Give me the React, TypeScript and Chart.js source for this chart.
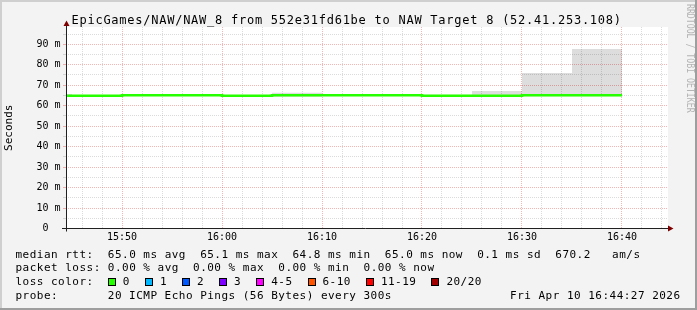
import { useEffect, useRef } from 'react';
import { Chart, registerables } from 'chart.js';

Chart.register(...registerables);

// ---------- text ----------
const titleText = 'EpicGames/NAW/NAW_8 from 552e31fd61be to NAW Target 8 (52.41.253.108)';
const yAxisTitle = 'Seconds';
const watermarkText = 'RRDTOOL / TOBI OETIKER';

// ---------- data (5 minute steps, each value covers the 5 minutes ending at its time) ----------
const sampleTimes = ['15:45', '15:50', '15:55', '16:00', '16:05', '16:10', '16:15', '16:20', '16:25', '16:30', '16:35', '16:40'];
const medianRtt = [64.8, 64.8, 65.1, 65.1, 64.8, 65.1, 65.1, 65.1, 64.8, 64.8, 65.1, 65.1];
const smokeLow = [64.4, 64.4, 64.7, 64.7, 64.5, 64.4, 64.8, 64.8, 64.5, 64.5, 64.6, 64.6];
const smokeHigh = [65.7, 65.0, 65.4, 65.4, 65.2, 66.3, 65.4, 65.4, 65.3, 67.2, 76.0, 87.7];
const stepMinutes = 5;

const xRange = ['15:44:24', '16:44:36'];
const xTickTimes = ['15:50', '16:00', '16:10', '16:20', '16:30', '16:40'];
const xTickLabels = ['15:50', '16:00', '16:10', '16:20', '16:30', '16:40'];
const yMax = 98.45;
const yTickValues = [0, 10, 20, 30, 40, 50, 60, 70, 80, 90];
const yTickLabels = ['0', '10 m', '20 m', '30 m', '40 m', '50 m', '60 m', '70 m', '80 m', '90 m'];

// ---------- legend ----------
const rttStats = ['65.0 ms avg', '65.1 ms max', '64.8 ms min', '65.0 ms now', '0.1 ms sd', '670.2   am/s'];
const lossStats = ['0.00 % avg', '0.00 % max', '0.00 % min', '0.00 % now'];
const lossColorLabels = ['0', '1', '2', '3', '4-5', '6-10', '11-19', '20/20'];
const lossColors = ['#26ff00', '#00b8ff', '#0059ff', '#7e00ff', '#ff00ff', '#ff5500', '#ff0000', '#a10000'];
const probeText = '20 ICMP Echo Pings (56 Bytes) every 300s';
const dateText = 'Fri Apr 10 16:44:27 2026';

const MONO = '"DejaVu Sans Mono", monospace';
const GRID = 'rgba(143,143,143,0.32)';
const MGRID = 'rgba(225,60,60,0.38)';

const toMin = (t: string) => {
  const p = t.split(':').map(Number);
  return p[0] * 60 + p[1] + (p[2] || 0) / 60;
};

function stepPoints(values: number[]) {
  const pts: { x: number; y: number }[] = [];
  sampleTimes.forEach((t, i) => {
    const end = toMin(t);
    pts.push({ x: end - stepMinutes, y: values[i] }, { x: end, y: values[i] });
  });
  return pts;
}

const rrdChrome = {
  id: 'rrdChrome',
  beforeDraw(chart: any) {
    const { ctx, width, height, chartArea: a } = chart;
    ctx.save();
    ctx.fillStyle = '#f3f3f3';
    ctx.fillRect(0, 0, width, height);
    ctx.fillStyle = '#cfcfcf';
    ctx.fillRect(0, 0, width, 2);
    ctx.fillRect(0, 0, 2, height);
    ctx.fillStyle = '#9e9e9e';
    ctx.fillRect(width - 2, 0, 2, height);
    ctx.fillRect(0, height - 2, width, 2);
    ctx.fillStyle = '#ffffff';
    ctx.fillRect(a.left, a.top, a.right - a.left, a.bottom - a.top);
    ctx.restore();
  },
  afterDraw(chart: any) {
    const { ctx, chartArea: a } = chart;
    ctx.save();
    const ax = Math.round(a.left) + 0.5;
    const ay = Math.round(a.bottom - 0.5) + 0.5;
    // axes
    ctx.strokeStyle = '#202020';
    ctx.lineWidth = 1;
    ctx.beginPath();
    ctx.moveTo(ax, ay + 3);
    ctx.lineTo(ax, a.top - 2);
    ctx.moveTo(a.left - 4, ay);
    ctx.lineTo(a.right + 1, ay);
    ctx.stroke();
    // arrows
    ctx.fillStyle = '#7f0000';
    ctx.beginPath();
    ctx.moveTo(ax, a.top - 6.5);
    ctx.lineTo(ax - 3, a.top - 1);
    ctx.lineTo(ax + 3, a.top - 1);
    ctx.closePath();
    ctx.fill();
    ctx.beginPath();
    ctx.moveTo(a.right + 5.5, ay);
    ctx.lineTo(a.right, ay - 3);
    ctx.lineTo(a.right, ay + 3);
    ctx.closePath();
    ctx.fill();

    // title
    ctx.fillStyle = '#000';
    ctx.textBaseline = 'alphabetic';
    ctx.textAlign = 'left';
    ctx.font = '12px ' + MONO;
    ctx.letterSpacing = '0px';
    const tw = ctx.measureText('M').width;
    ctx.letterSpacing = (7.97 - tw).toFixed(2) + 'px';
    ctx.fillText(titleText, 71.5, 24);

    // legend
    const CW = 7.1;
    ctx.font = '11px ' + MONO;
    ctx.letterSpacing = '0px';
    const lw = ctx.measureText('M').width;
    ctx.letterSpacing = (CW - lw).toFixed(2) + 'px';
    const x0 = 15.5;
    const col = (n: number) => x0 + n * CW;
    ctx.fillText('median rtt:  ' + rttStats.join('  '), x0, 258);
    ctx.fillText('packet loss: ' + lossStats.join('  '), x0, 271);
    ctx.fillText('loss color:', x0, 285);
    let bx = col(13);
    lossColorLabels.forEach((lbl, i) => {
      const bxi = Math.round(bx);
      ctx.fillStyle = lossColors[i];
      ctx.fillRect(bxi, 278, 8, 8);
      ctx.strokeStyle = '#000';
      ctx.strokeRect(bxi + 0.5, 278.5, 7, 7);
      ctx.fillStyle = '#000';
      const lx = bx + 15;
      ctx.fillText(lbl, lx, 285);
      bx = lx + (lbl.length + 2) * CW + 0.8;
    });
    ctx.fillText('probe:', x0, 299);
    ctx.fillText(probeText, col(13), 299);
    ctx.fillText(dateText, 680 - dateText.length * CW + 0.5, 299);

    // watermark
    ctx.letterSpacing = '0px';
    ctx.translate(690, 4);
    ctx.rotate(Math.PI / 2);
    ctx.scale(0.82, 1);
    ctx.font = '10px ' + MONO;
    ctx.fillStyle = '#b4b4b4';
    ctx.textBaseline = 'middle';
    ctx.fillText(watermarkText, 0, 0);
    ctx.restore();
  },
};

export default function App() {
  const ref = useRef<HTMLCanvasElement | null>(null);

  useEffect(() => {
    if (!ref.current) return;
    const xMinorTicks: number[] = [];
    const xStart = toMin(xRange[0]);
    const xEnd = toMin(xRange[1]);
    for (let m = Math.ceil(xStart / 2) * 2; m <= xEnd; m += 2) xMinorTicks.push(m);
    const xMajor = xTickTimes.map(toMin);
    const yMinorTicks: number[] = [];
    for (let v = 0; v <= yMax; v += 5) yMinorTicks.push(v);

    const chart = new Chart(ref.current, {
      type: 'line',
      data: {
        datasets: [
          {
            label: 'median',
            data: stepPoints(medianRtt),
            borderColor: '#26ff00',
            borderWidth: 2.5,
            pointRadius: 0,
            fill: false,
            order: 0,
          },
          {
            label: 'smoke high',
            data: stepPoints(smokeHigh),
            borderColor: 'transparent',
            borderWidth: 0,
            backgroundColor: 'rgba(0,0,0,0.135)',
            pointRadius: 0,
            fill: '+1',
            order: 1,
          },
          {
            label: 'smoke low',
            data: stepPoints(smokeLow),
            borderColor: 'transparent',
            borderWidth: 0,
            pointRadius: 0,
            fill: false,
            order: 2,
          },
        ],
      },
      options: {
        responsive: false,
        devicePixelRatio: 1,
        animation: false,
        events: [],
        layout: { padding: { left: 0, top: 27, right: 29, bottom: 0 } },
        plugins: {
          legend: { display: false },
          tooltip: { enabled: false },
          title: { display: false },
        },
        scales: {
          x: {
            type: 'linear',
            min: xStart,
            max: xEnd,
            afterFit: (s: any) => {
              s.height = 81.5;
            },
            afterBuildTicks: (s: any) => {
              s.ticks = xMinorTicks.map((v) => ({ value: v }));
            },
            border: { display: false, dash: [1, 1] },
            grid: {
              drawTicks: false,
              color: (c: any) =>
                c.tick && xMajor.some((m) => Math.abs(m - c.tick.value) < 1e-6) ? MGRID : GRID,
            },
            ticks: {
              autoSkip: false,
              maxRotation: 0,
              minRotation: 0,
              padding: 3,
              color: '#000',
              font: { family: MONO, size: 10 },
              callback: (v: any) => {
                const i = xMajor.findIndex((m) => Math.abs(m - Number(v)) < 1e-6);
                return i >= 0 ? xTickLabels[i] : '';
              },
            },
          },
          y: {
            type: 'linear',
            min: 0,
            max: yMax,
            afterFit: (s: any) => {
              s.width = 66;
            },
            afterBuildTicks: (s: any) => {
              s.ticks = yMinorTicks.map((v) => ({ value: v }));
            },
            border: { display: false, dash: [1, 1] },
            grid: {
              drawTicks: true,
              tickLength: 3,
              color: (c: any) => (c.tick && c.tick.value % 10 === 0 ? MGRID : GRID),
            },
            title: {
              display: true,
              text: yAxisTitle,
              color: '#000',
              font: { family: MONO, size: 11 },
              padding: { top: 3, bottom: 0 },
            },
            ticks: {
              autoSkip: false,
              padding: 2.5,
              color: '#000',
              font: { family: MONO, size: 10 },
              callback: (v: any) => {
                const i = yTickValues.indexOf(Number(v));
                if (i < 0) return '';
                const lbl = yTickLabels[i];
                return lbl.indexOf(' ') >= 0 ? lbl : lbl + '  ';
              },
            },
          },
        },
      },
      plugins: [rrdChrome],
    } as any);
    return () => chart.destroy();
  }, []);

  return (
    <div style={{ position: 'fixed', left: 0, top: 0, width: 697, height: 310 }}>
      <canvas ref={ref} width={697} height={310} style={{ display: 'block', width: 697, height: 310 }} />
    </div>
  );
}
